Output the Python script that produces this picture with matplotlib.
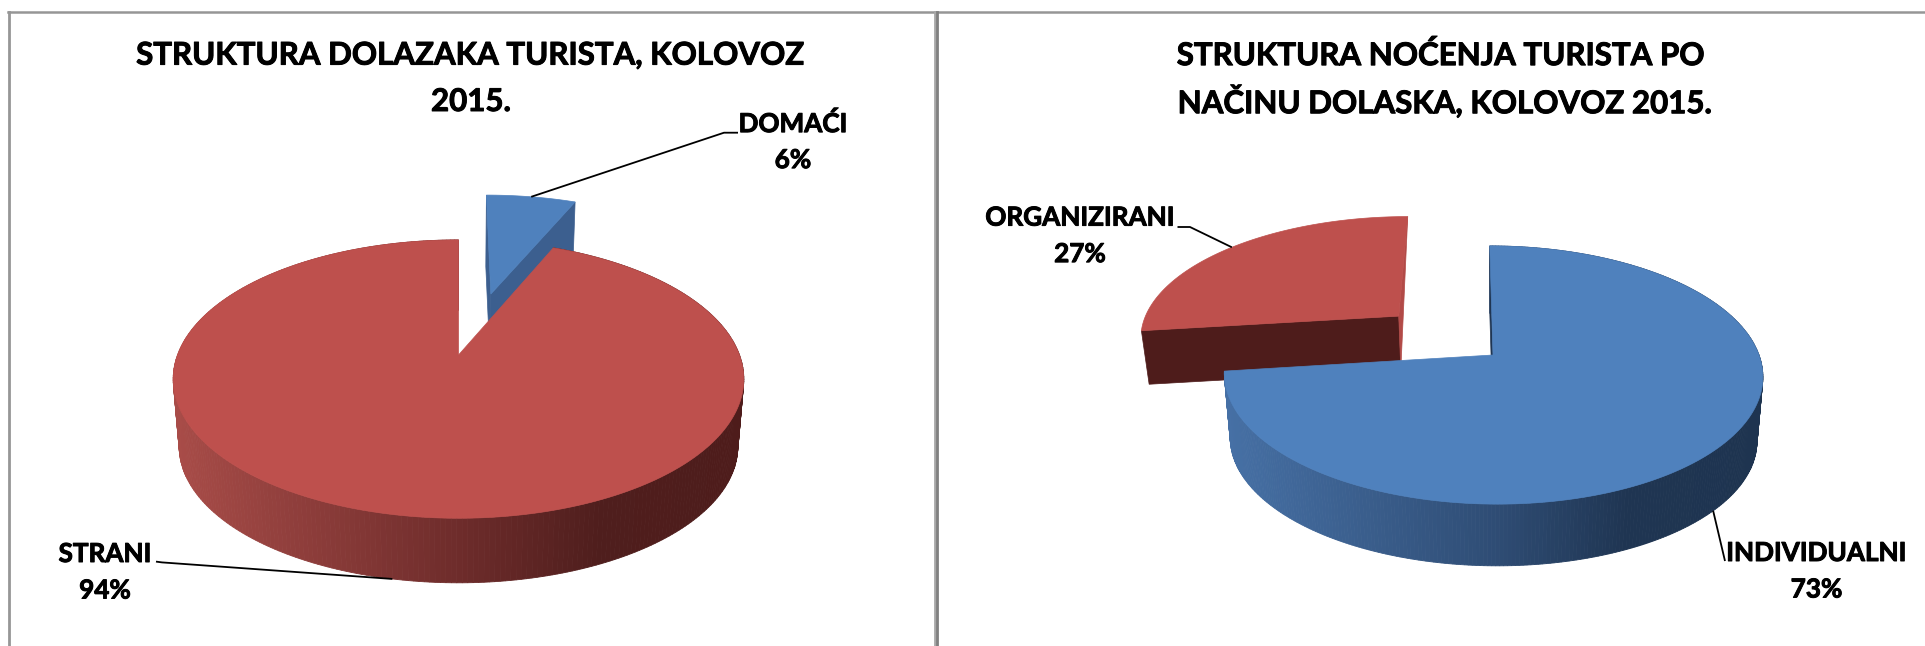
import numpy as np
import matplotlib
matplotlib.use('Agg')
import matplotlib.pyplot as plt
import matplotlib.patheffects as pe
from matplotlib.colors import LinearSegmentedColormap
from matplotlib.patches import Polygon

titles_left = ['STRUKTURA DOLAZAKA TURISTA, KOLOVOZ', '2015.']
labels_left = ['DOMAĆI', 'STRANI']
values_left = [6.4, 93.6]

titles_right = ['STRUKTURA NOĆENJA TURISTA PO', 'NAČINU DOLASKA, KOLOVOZ 2015.']
labels_right = ['INDIVIDUALNI', 'ORGANIZIRANI']
values_right = [73, 27]

BLUE = '#4F81BD'
RED = '#BE504D'
FONT = 'Lato'

fig = plt.figure(figsize=(19.25, 6.46), dpi=100)
ax = fig.add_axes([0, 0, 1, 1])
ax.set_xlim(0, 1925)
ax.set_ylim(646, 0)
ax.axis('off')


class Pie3D:
    # a disc seen in perspective, pixels of the figure
    def __init__(self, x0, y0, sx, sy, k, shear, shrink, depth):
        self.x0, self.y0 = x0, y0
        self.sx, self.sy = sx, sy
        self.k, self.shear = k, shear
        self.shrink, self.depth = shrink, depth
        self.z = 2

    def top(self, X, Y):
        w = 1 + self.k * Y
        dx = self.sx * X / w
        dy = self.sy * Y / w
        return self.x0 + dx + self.shear * dy, self.y0 - dy

    def bottom(self, X, Y, depth=None):
        x, y = self.top(X, Y)
        d = self.depth if depth is None else depth
        return (self.x0 + (x - self.x0) * self.shrink,
                self.y0 + (y - self.y0) * self.shrink + d)


def draw_slice(pie, start, stop, color, explode=0, nudge=0, side=None, cut=None, cut2=None, sliver=None, depth=None):
    # angles run clockwise from 12 o'clock, in degrees
    mid = np.radians((start + stop) / 2)
    ox, oy = explode * np.sin(mid) + nudge, explode * np.cos(mid)
    t = np.radians(np.linspace(start, stop, 361))
    X = ox + np.sin(t)
    Y = oy + np.cos(t)
    tx, ty = pie.top(X, Y)
    bx, by = pie.bottom(X, Y, depth)
    ax0, ay0 = pie.top(ox, oy)
    bx0, by0 = pie.bottom(ox, oy, depth)

    if side is not None:
        for i in range(len(t) - 1):
            xm = (tx[i] + tx[i + 1]) / 2
            c = side((xm - tx.min()) / (tx.max() - tx.min()))
            ax.add_patch(Polygon([(tx[i], ty[i]), (tx[i + 1], ty[i + 1]), (bx[i + 1], by[i + 1]), (bx[i], by[i])],
                                 facecolor=c, edgecolor=c, lw=0.6, zorder=pie.z))
    if cut is not None:
        ax.add_patch(Polygon([(ax0, ay0), (tx[-1], ty[-1]), (bx[-1], by[-1]), (bx0, by0)],
                             facecolor=cut, edgecolor=cut, lw=0.5, zorder=pie.z))
    if cut2 is not None:
        ax.add_patch(Polygon([(ax0, ay0), (tx[0], ty[0]), (bx[0], by[0]), (bx0, by0)],
                             facecolor=cut2, edgecolor=cut2, lw=0.5, zorder=pie.z))
    if sliver is not None:
        ax.add_patch(Polygon([(ax0, ay0), (tx[-1], ty[-1]), (bx0, by0)],
                             facecolor=sliver, edgecolor=sliver, lw=0.5, zorder=pie.z))
    ax.add_patch(Polygon(np.column_stack([np.r_[ax0, tx], np.r_[ay0, ty]]),
                         facecolor=color, edgecolor=color, lw=0.5, zorder=pie.z + 0.5))
    pie.z += 1
    return (ox + np.sin(mid), oy + np.cos(mid))


def leader(xs, ys):
    ax.plot(xs, ys, color='black', lw=1.3, zorder=20, solid_capstyle='butt')


def bold_text(x, y, s, size):
    ax.text(x, y, s, ha='center', va='center', fontsize=size, fontweight='bold', family=FONT, zorder=21,
            path_effects=[pe.withStroke(linewidth=0.7, foreground='black')])


def label(x, y, name, value):
    bold_text(x, y, name, 18.8)
    bold_text(x, y + 36.5, '%.0f%%' % value, 18.8)


red_side = LinearSegmentedColormap.from_list('r', [(0, '#A84C48'), (0.5, '#6E2C2B'), (0.75, '#4F1E1D'), (1, '#4E1C1B')])
blue_side = LinearSegmentedColormap.from_list('b', [(0, '#4670A5'), (0.5, '#2F4D75'), (0.75, '#1F3552'), (1, '#1E3450')])

# left chart
pie_l = Pie3D(458.5, 355, 281, 135, 0.173, 0, 0.979, 68)
end = values_left[0] / sum(values_left) * 360
mid_blue = draw_slice(pie_l, 0, end, BLUE, explode=0.5, nudge=0.025, cut='#3C5F8F', cut2='#3C5F8F')
mid_red = draw_slice(pie_l, end, 360, RED, side=red_side)

px, py = pie_l.top(*mid_blue)
leader([738, 724, px], [132.7, 132.7, py])
px, py = pie_l.bottom(*mid_red)
leader([156, 162, px], [561.6, 562.4, py])
label(793, 123.6, labels_left[0], values_left[0])
label(105, 554, labels_left[1], values_left[1])
bold_text(471, 55.6, titles_left[0], 22.5)
bold_text(471, 102, titles_left[1], 22.5)

# right chart
pie_r = Pie3D(1493, 355, 266, 126, 0.155, -0.03, 0.978, 65)
end = values_right[0] / sum(values_right) * 360
mid_red = draw_slice(pie_r, end, 360, RED, explode=0.49, cut2='#4E1C1B', sliver='#B24A47', depth=53)
mid_blue = draw_slice(pie_r, 0, end, BLUE, side=blue_side, cut2='#1F3552')

px, py = pie_r.top(*mid_red)
leader([1177.5, 1190, px], [227, 227, py])
px, py = pie_r.bottom(*mid_blue)
leader([1725, px], [561, py])
label(1816.5, 553, labels_right[0], values_right[0])
label(1080, 217.6, labels_right[1], values_right[1])
bold_text(1441, 55.6, titles_right[0], 22.5)
bold_text(1445, 102, titles_right[1], 22.5)

# frames of the two panels
ax.plot([8, 1925], [12, 12], color='#969696', lw=1.8, zorder=30)
ax.plot([8.5, 8.5], [12, 646], color='#969696', lw=2, zorder=30)
ax.plot([934.5, 934.5], [12, 646], color='#A8A8A8', lw=2, zorder=30)
ax.plot([936.8, 936.8], [12, 646], color='#808080', lw=2, zorder=30)

fig.savefig('out.png', dpi=100, facecolor='white')
